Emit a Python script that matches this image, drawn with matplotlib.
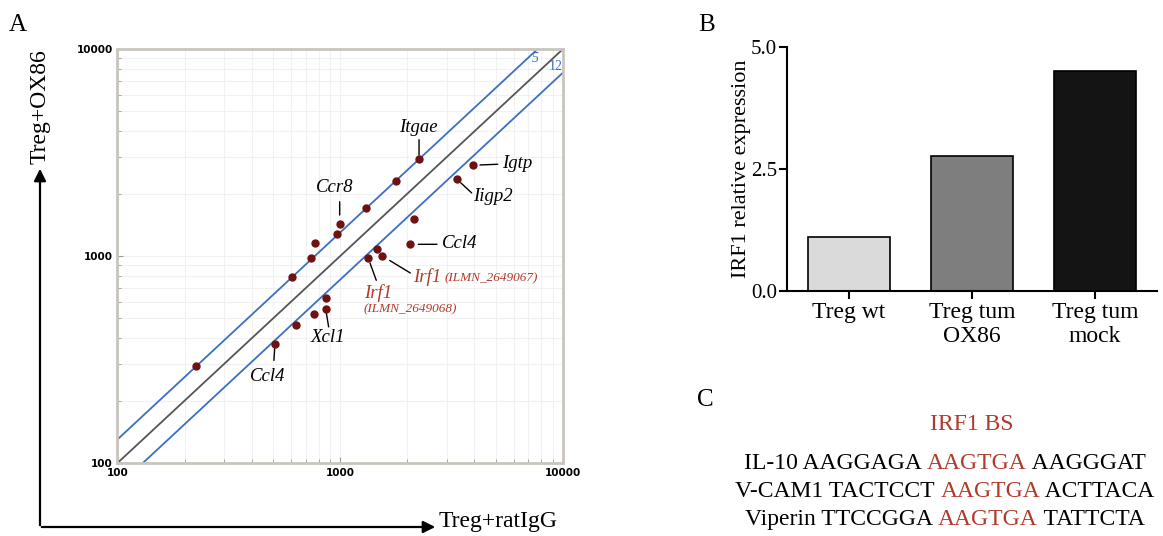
import numpy as np
import matplotlib.pyplot as plt
from matplotlib.patches import FancyArrowPatch
from matplotlib.ticker import NullFormatter

plt.rcParams['font.family'] = ['Liberation Serif', 'DejaVu Serif']

# ---- panel A : microarray intensities ----
ratigg = [225, 509, 633, 765, 860, 860, 607, 739, 770, 970, 994, 1305,
          1780, 2258, 3932, 3333, 2143, 2056, 1457, 1336, 1545]
ox86 = [295, 374, 464, 526, 555, 629, 794, 981, 1160, 1282, 1432, 1712,
        2311, 2951, 2744, 2355, 1514, 1139, 1081, 975, 1000]
fold = 1.3

genes = ['Itgae', 'Igtp', 'Iigp2', 'Ccr8', 'Ccl4', 'Irf1', 'Irf1', 'Xcl1', 'Ccl4']
gene_idx = [13, 14, 15, 10, 17, 20, 19, 4, 1]
probes = ['', '', '', '', '', '(ILMN_2649067)', '(ILMN_2649068)', '', '']

# ---- panel B : qPCR ----
groups = ['Treg wt', 'Treg tum\nOX86', 'Treg tum\nmock']
irf1 = [1.1, 2.77, 4.51]
bar_colors = ['#dadada', '#7e7e7e', '#141414']

# ---- panel C : promoter sequences ----
seq_names = ['IL-10', 'V-CAM1', 'Viperin']
seq_left = ['AAGGAGA', 'TACTCCT', 'TTCCGGA']
seq_site = ['AAGTGA', 'AAGTGA', 'AAGTGA']
seq_right = ['AAGGGAT', 'ACTTACA', 'TATTCTA']

red = '#b23a2c'

fig = plt.figure(figsize=(11.63, 5.36), dpi=100)

# overlay in pixel coordinates for letters, arrows and text panel
ov = fig.add_axes([0, 0, 1, 1])
ov.set_xlim(0, 1163)
ov.set_ylim(536, 0)
ov.axis('off')

# ---------------- A ----------------
ax = fig.add_axes([117.5 / 1163, 73 / 536, 445.5 / 1163, 414 / 536])
ax.set_xscale('log')
ax.set_yscale('log')
ax.set_xlim(100, 10000)
ax.set_ylim(100, 10000)
ax.grid(True, which='both', color='#f1f1f1', lw=0.8)
ax.set_axisbelow(True)
lim = np.array([100, 10000])
ax.plot(lim, lim, color='#555555', lw=1.3)
ax.plot(lim, lim * fold, color='#3a6fc4', lw=1.3)
ax.plot(lim, lim / fold, color='#3a6fc4', lw=1.3)
ax.plot(ratigg, ox86, 'o', color='#6e1212', ms=5, zorder=5)
ax.text(0.937, 0.978, '5', transform=ax.transAxes, color='#3a6fc4',
        fontsize=10, style='italic', ha='center', va='center')
ax.text(0.984, 0.958, '12', transform=ax.transAxes, color='#3a6fc4',
        fontsize=10, ha='center', va='center')
for s in ax.spines.values():
    s.set_color('#c9c5bd')
    s.set_linewidth(2)
ax.set_xticks([100, 1000, 10000], ['100', '1000', '10000'])
ax.set_yticks([100, 1000, 10000], ['100', '1000', '10000'])
ax.xaxis.set_minor_formatter(NullFormatter())
ax.yaxis.set_minor_formatter(NullFormatter())
ax.tick_params(which='both', direction='in', color='#999999', labelsize=7.5)
ax.tick_params(which='major', length=4)
ax.tick_params(which='minor', length=3)
for lab in ax.get_xticklabels() + ax.get_yticklabels():
    lab.set_fontfamily('DejaVu Sans')
    lab.set_fontweight('bold')

# label offsets in pixels: text (dx, dy, ha), leader start (lx, ly), gap
txt_off = [(-1, 31, 'center'), (29, 2, 'left'), (16, -18, 'left'), (-5, 36, 'center'),
           (32, 1, 'left'), (31, -21, 'left'), (-4, -35, 'left'), (2, -29, 'center'),
           (-7, -32, 'center')]
lead_off = [(0, 19), (25, 1), (15, -14), (0, 22), (27, 0), (28, -17), (8, -22),
            (3, -18), (-1, -16)]
gaps = [3.7, 7.3, 5.4, 8.7, 8.3, 8.6, 5, 4.3, 3.7]

for k, g in enumerate(genes):
    i = gene_idx[k]
    px, py = ratigg[i], ox86[i]
    c = red if g == 'Irf1' else 'black'
    dx, dy, ha = txt_off[k]
    t = ax.annotate(g, xy=(px, py), xytext=(dx, dy), textcoords='offset pixels',
                    ha=ha, va='center', fontsize=13.5, style='italic', color=c)
    ax.annotate('', xy=(px, py), xytext=lead_off[k], textcoords='offset pixels',
                arrowprops=dict(arrowstyle='-', color='black', lw=1,
                                shrinkA=0, shrinkB=gaps[k] * 0.72))
    if probes[k] == '(ILMN_2649067)':
        ax.annotate(probes[k], xy=(1, 0), xycoords=t, xytext=(3, 2),
                    textcoords='offset pixels', ha='left', va='bottom',
                    fontsize=9.5, style='italic', color=c)
    elif probes[k]:
        ax.annotate(probes[k], xy=(px, py), xytext=(dx - 1, dy - 16),
                    textcoords='offset pixels', ha='left', va='center',
                    fontsize=9.5, style='italic', color=c)

# axis arrows and names
ov.add_patch(FancyArrowPatch((40, 528), (40, 166), arrowstyle='-|>',
                             mutation_scale=18, lw=1.6, color='black'))
ov.add_patch(FancyArrowPatch((39, 527), (438, 527), arrowstyle='-|>',
                             mutation_scale=18, lw=1.6, color='black'))
ov.text(40, 107, 'Treg+OX86', rotation=90, ha='center', va='center', fontsize=17)
ov.text(439, 522, 'Treg+ratIgG', ha='left', va='center', fontsize=17)

ov.text(18, 25, 'A', ha='center', va='center', fontsize=18)
ov.text(707, 25, 'B', ha='center', va='center', fontsize=18)
ov.text(705, 400, 'C', ha='center', va='center', fontsize=18)

# ---------------- B ----------------
bx = fig.add_axes([786.7 / 1163, 245 / 536, 370 / 1163, 244.3 / 536])
x = np.arange(len(groups))
bx.bar(x, irf1, width=0.667, color=bar_colors, edgecolor='black', lw=1.2)
bx.set_xlim(-0.506, 2.5)
bx.set_ylim(0, 5)
bx.set_yticks([0, 2.5, 5.0], ['0.0', '2.5', '5.0'])
bx.set_xticks(x, groups)
bx.spines[['top', 'right']].set_visible(False)
bx.spines[['left', 'bottom']].set_linewidth(1.5)
bx.tick_params(axis='y', labelsize=15, length=6, width=1.5, pad=1)
bx.tick_params(axis='x', labelsize=17, length=6, width=1.5, pad=2)
for lab in bx.get_xticklabels():
    lab.set_linespacing(1.2)
bx.set_ylabel('IRF1 relative expression', fontsize=16, labelpad=0)

# ---------------- C ----------------
ov.text(972, 425, 'IRF1 BS', ha='center', va='center', fontsize=17, color=red)
fig.canvas.draw()
r = fig.canvas.get_renderer()
for j in range(len(seq_names)):
    y = 463.5 + 28 * j
    pieces = [(seq_names[j] + ' ' + seq_left[j] + ' ', 'black'),
              (seq_site[j], red),
              (' ' + seq_right[j], 'black')]
    arts = []
    for s, c in pieces:
        arts.append(ov.text(0, y, s, ha='left', va='center', fontsize=17, color=c))
    widths = [a.get_window_extent(r).width for a in arts]
    x0 = 945 - sum(widths) / 2
    for a, w in zip(arts, widths):
        a.set_x(x0)
        x0 += w

fig.savefig('out.png', dpi=100)
